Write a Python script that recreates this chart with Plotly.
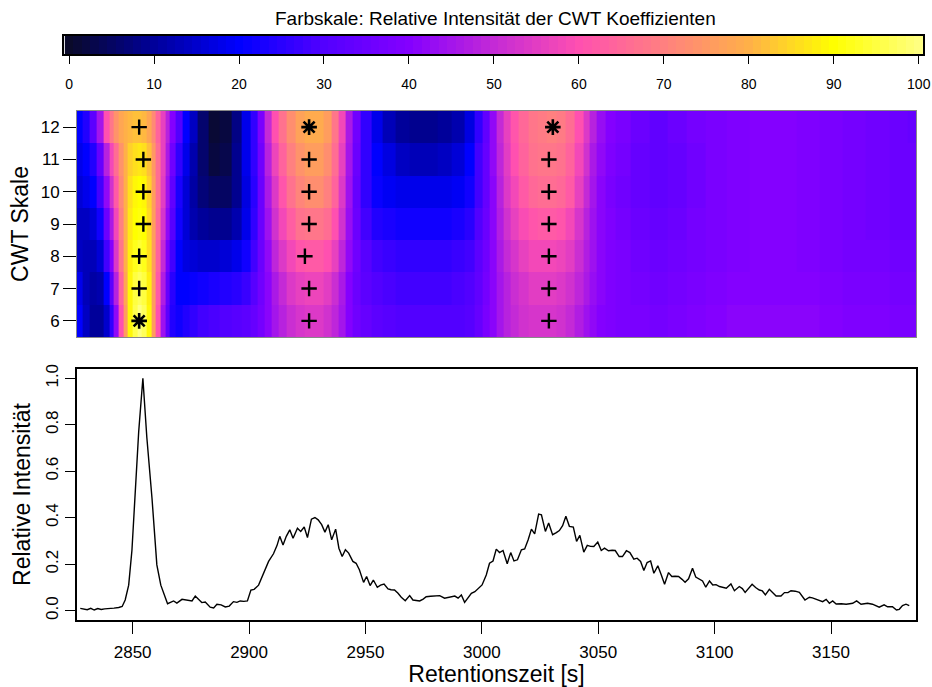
import plotly.graph_objects as go

# ---------------- data ----------------
scales = [6, 7, 8, 9, 10, 11, 12]

cwt_time = [2827, 2830, 2833, 2836, 2839, 2841, 2843, 2845, 2847, 2849, 2851, 2853, 2855, 2857, 2859,
            2861, 2863, 2865, 2867, 2870, 2873, 2876, 2880, 2885, 2890, 2895, 2899, 2902, 2905, 2908,
            2911, 2914, 2918, 2922, 2926, 2930, 2934, 2937, 2940, 2943, 2946, 2950, 2955, 2960, 2966,
            2972, 2978, 2984, 2990, 2995, 2999, 3002, 3005, 3008, 3011, 3014, 3018, 3022, 3026, 3030,
            3034, 3038, 3042, 3045, 3048, 3051, 3055, 3060, 3068, 3076, 3084, 3092, 3100, 3110, 3120,
            3130, 3140, 3150, 3160, 3170, 3180, 3186]

cwt_s12 = [20, 24, 32, 45, 60, 68, 74, 78, 80, 81, 82, 82, 81, 78, 72, 64, 56, 48, 40, 30, 20, 14, 6, 1, 2,
           8, 18, 26, 38, 50, 60, 67, 73, 77, 79, 79, 76, 68, 58, 46, 36, 26, 18, 13, 10, 9, 9, 10, 12, 17,
           26, 33, 42, 50, 56, 61, 65, 68, 69, 70, 69, 66, 60, 54, 48, 43, 40, 38, 35, 33, 35, 37, 38, 39,
           40, 40, 39, 38, 37, 36, 35, 34]
cwt_s11 = [18, 20, 24, 34, 48, 58, 66, 74, 80, 84, 86, 87, 86, 82, 75, 66, 56, 46, 36, 26, 18, 12, 6, 2, 3,
           9, 18, 26, 36, 48, 57, 64, 70, 74, 76, 76, 73, 66, 56, 45, 35, 26, 20, 17, 14, 13, 13, 14, 16, 20,
           28, 34, 42, 49, 55, 60, 64, 67, 68, 68, 67, 64, 58, 52, 46, 42, 39, 37, 34, 33, 34, 36, 38, 39,
           40, 40, 39, 38, 37, 36, 35, 35]
cwt_s10 = [16, 18, 20, 28, 42, 52, 62, 72, 80, 86, 89, 90, 89, 84, 76, 66, 55, 44, 33, 23, 16, 11, 7, 5, 5,
           9, 17, 25, 35, 46, 54, 61, 67, 71, 73, 73, 70, 64, 54, 44, 34, 26, 21, 19, 18, 18, 18, 18, 19, 22,
           28, 34, 41, 48, 54, 58, 62, 65, 66, 66, 65, 62, 56, 50, 45, 41, 38, 36, 34, 33, 34, 36, 38, 39,
           40, 40, 39, 38, 37, 36, 35, 35]
cwt_s9 = [14, 14, 16, 22, 35, 46, 58, 70, 80, 87, 90, 91, 90, 85, 76, 65, 53, 42, 31, 22, 16, 12, 10, 9, 9,
          12, 18, 26, 35, 44, 52, 58, 63, 67, 68, 68, 66, 60, 52, 43, 35, 28, 24, 23, 22, 22, 22, 22, 23, 25,
          30, 35, 41, 47, 52, 56, 59, 61, 62, 62, 61, 58, 53, 48, 44, 41, 39, 37, 35, 34, 35, 37, 38, 39,
          40, 40, 39, 38, 37, 36, 35, 35]
cwt_s8 = [14, 13, 13, 16, 28, 40, 54, 68, 80, 88, 92, 94, 92, 86, 76, 64, 50, 38, 28, 20, 17, 16, 15, 15, 16,
          18, 22, 28, 35, 42, 49, 54, 58, 61, 62, 62, 60, 56, 49, 42, 36, 31, 28, 27, 26, 26, 26, 26, 27, 28,
          32, 36, 41, 46, 50, 53, 56, 58, 58, 58, 57, 55, 51, 47, 44, 41, 39, 38, 36, 35, 36, 37, 38, 39,
          40, 40, 39, 38, 37, 37, 36, 36]
cwt_s7 = [18, 13, 11, 12, 20, 32, 48, 64, 78, 89, 95, 97, 95, 88, 76, 62, 47, 34, 25, 20, 20, 21, 22, 23, 24,
          25, 27, 31, 36, 41, 46, 50, 54, 56, 57, 57, 55, 51, 46, 40, 35, 32, 30, 29, 28, 28, 28, 28, 29, 30,
          33, 37, 41, 45, 48, 51, 53, 55, 55, 55, 54, 52, 49, 46, 43, 41, 39, 38, 37, 36, 37, 38, 39, 40,
          40, 40, 40, 39, 38, 38, 37, 37]
cwt_s6 = [20, 14, 10, 10, 15, 26, 42, 60, 76, 89, 96, 100, 97, 89, 76, 60, 44, 32, 24, 22, 24, 26, 28, 29, 30,
          31, 32, 34, 37, 41, 45, 48, 51, 53, 54, 54, 52, 49, 45, 40, 36, 34, 32, 31, 30, 30, 30, 30, 30, 31,
          34, 38, 41, 45, 48, 50, 52, 53, 53, 53, 52, 50, 47, 44, 42, 40, 39, 38, 38, 37, 38, 39, 40, 41,
          41, 41, 41, 40, 39, 39, 38, 38]

# detected ridge maxima per scale (scale 6 ... 12)
peak1_time = [2852.8, 2852.8, 2852.8, 2854.6, 2854.6, 2854.6, 2852.8]
peak2_time = [2925.8, 2925.8, 2924.0, 2925.8, 2925.8, 2925.8, 2925.8]
peak3_time = [3028.8, 3028.8, 3028.8, 3028.8, 3028.8, 3028.8, 3030.5]
# scale at which each ridge reaches its maximum (drawn as "*")
peak_best_scale = [6, 12, 12]

chrom_time = [2827.5, 2829, 2830.5, 2832, 2833.5, 2835, 2836.5, 2838, 2840, 2842, 2844, 2845.5, 2846.8,
              2848.3, 2849.7, 2851.1, 2852.6, 2854.4, 2856.1, 2858.3, 2860.4, 2862.1, 2863.5, 2865,
              2867.6, 2869, 2871.2, 2873, 2875.5, 2876.9, 2879.7, 2881.2, 2883.3, 2884.8, 2886.2, 2888,
              2889.8, 2891.5, 2893.3, 2894.8, 2896.2, 2897.8, 2899.3, 2900.8, 2902.2, 2904.1, 2906.1,
              2908.4, 2910.5, 2912, 2913.2, 2914.6, 2916, 2917.5, 2918.9, 2920.8, 2922.2, 2923.7, 2925.1,
              2926.8, 2928.3, 2929.7, 2931.2, 2932.6, 2934, 2935.5, 2937.2, 2938.6, 2940, 2941.4, 2942.8,
              2944.6, 2946, 2947.4, 2949.2, 2950.5, 2952, 2953.4, 2955.1, 2956.5, 2958, 2959.7, 2961,
              2962.5, 2964, 2965.4, 2967.1, 2969, 2970.4, 2972, 2973.3, 2974.8, 2976.1, 2978, 2980,
              2981.9, 2984, 2986, 2988.4, 2989.8, 2991.2, 2992.6, 2994, 2995.5, 2997, 2998.3, 3000.1,
              3001.9, 3003.3, 3004.8, 3006.2, 3007.6, 3009.1, 3010.9, 3012.4, 3013.8, 3015.3, 3017,
              3018.4, 3019.9, 3021.3, 3022.7, 3024.4, 3025.6, 3027.3, 3028.7, 3030.4, 3032, 3033.3,
              3034.7, 3036.1, 3037.6, 3039.3, 3040.7, 3042.1, 3043.8, 3045.3, 3046.7, 3048.1, 3049.8,
              3051.3, 3052.7, 3054.4, 3056, 3057.3, 3059, 3060.4, 3062.1, 3063.6, 3065.3, 3066.7, 3068.2,
              3069.6, 3071, 3072.5, 3073.9, 3075.6, 3077.1, 3078.5, 3080.2, 3081.6, 3083, 3084.5, 3086,
              3087.3, 3088.8, 3090.5, 3091.9, 3093.3, 3094.8, 3096.2, 3097.8, 3099.2, 3100.6, 3102.1,
              3103.5, 3105, 3107, 3108.5, 3110.6, 3111.9, 3113.1, 3114.6, 3116.1, 3117.6, 3119.2, 3120.5,
              3121.8, 3123.5, 3125, 3126.4, 3128.5, 3130, 3131.5, 3132.8, 3134.6, 3136.4, 3138.8, 3140.7,
              3142, 3143.6, 3145, 3146.4, 3147.9, 3149.3, 3150.7, 3152.2, 3154.4, 3156.5, 3158, 3159.3,
              3161, 3162.9, 3164.3, 3165.7, 3167.8, 3169.3, 3170.7, 3172.8, 3174.3, 3176.4, 3178.1,
              3179.3, 3180.7, 3182.2, 3183.6]
chrom_int = [0.010, 0.008, 0.004, 0.010, 0.003, 0.009, 0.005, 0.008, 0.008, 0.011, 0.014, 0.018, 0.046,
             0.11, 0.26, 0.51, 0.77, 1.0, 0.745, 0.486, 0.197, 0.11, 0.075, 0.030,
             0.042, 0.033, 0.049, 0.045, 0.042, 0.063, 0.035, 0.037, 0.015, 0.012, 0.028, 0.025,
             0.016, 0.02, 0.039, 0.036, 0.042, 0.04, 0.042, 0.089, 0.092, 0.11, 0.161,
             0.212, 0.245, 0.28, 0.32, 0.283, 0.32, 0.348, 0.312, 0.355, 0.341, 0.36, 0.315,
             0.394, 0.401, 0.391, 0.37, 0.338, 0.37, 0.305, 0.351, 0.269, 0.233, 0.262, 0.248,
             0.212, 0.204, 0.176, 0.122, 0.147, 0.108, 0.132, 0.101, 0.11, 0.115, 0.094, 0.09,
             0.089, 0.075, 0.058, 0.043, 0.065, 0.046, 0.044, 0.042, 0.05, 0.06, 0.062, 0.063,
             0.065, 0.054, 0.058, 0.063, 0.054, 0.068, 0.036, 0.055, 0.075, 0.082, 0.094, 0.111,
             0.154, 0.204, 0.214, 0.265, 0.25, 0.259, 0.202, 0.25, 0.214, 0.219, 0.262,
             0.266, 0.305, 0.351, 0.331, 0.416, 0.413, 0.341, 0.377, 0.327, 0.336, 0.345,
             0.366, 0.406, 0.363, 0.36, 0.298, 0.324, 0.252, 0.281, 0.277, 0.276, 0.295,
             0.259, 0.269, 0.258, 0.26, 0.259, 0.233, 0.233, 0.258, 0.25, 0.222, 0.226, 0.212,
             0.173, 0.207, 0.214, 0.161, 0.193, 0.154, 0.114, 0.164, 0.147, 0.148, 0.147, 0.135,
             0.122, 0.137, 0.183, 0.145, 0.135, 0.128, 0.101, 0.128, 0.111, 0.112, 0.104,
             0.1, 0.097, 0.115, 0.086, 0.104, 0.095, 0.079, 0.097, 0.114, 0.1, 0.089, 0.085,
             0.068, 0.092, 0.075, 0.063, 0.063, 0.078, 0.078, 0.086, 0.084, 0.079, 0.046, 0.058,
             0.055, 0.049, 0.045, 0.039, 0.049, 0.032, 0.042, 0.029, 0.03, 0.028, 0.03, 0.032,
             0.042, 0.028, 0.03, 0.032, 0.028, 0.022, 0.015, 0.025, 0.017, 0.017, 0.003,
             0.006, 0.022, 0.028, 0.022]

x_ticks = [2850, 2900, 2950, 3000, 3050, 3100, 3150]
y_ticks = [0.0, 0.2, 0.4, 0.6, 0.8, 1.0]
y_ticklabels = ["0.0", "0.2", "0.4", "0.6", "0.8", "1.0"]
cb_ticks = [0, 10, 20, 30, 40, 50, 60, 70, 80, 90, 100]
cb_levels = list(range(0, 101))  # colour-key steps (0..100 %)
cb_title = "Farbskale: Relative Intensität der CWT Koeffizienten"

# ---------------- styling ----------------
W, H = 932, 687
FONT = "Liberation Sans, Arial, Helvetica, sans-serif"

colorscale = [
    [0.00, "#0a0a2a"], [0.10, "#00009a"], [0.20, "#0000ff"], [0.30, "#5200ff"],
    [0.40, "#8400ff"], [0.50, "#c42ad6"], [0.60, "#ff50b0"], [0.70, "#ff8080"],
    [0.80, "#ffb048"], [0.90, "#ffff00"], [1.00, "#ffff80"],
]

def px_x(p):
    return p / W

def px_y(p):
    return 1 - p / H

z = [cwt_s6, cwt_s7, cwt_s8, cwt_s9, cwt_s10, cwt_s11, cwt_s12]
x_range = [2826.1, 3186.5]

fig = go.Figure()

# colour key (own axes, top)
fig.add_trace(go.Heatmap(
    x=cb_levels, y=[0], z=[cb_levels], zmin=0, zmax=100, zsmooth=False,
    colorscale=colorscale, showscale=False, xaxis="x3", yaxis="y3", hoverinfo="skip",
))

# CWT coefficient image
fig.add_trace(go.Heatmap(
    x=cwt_time, y=scales, z=z, zmin=0, zmax=100, zsmooth=False,
    colorscale=colorscale, showscale=False, xaxis="x", yaxis="y", hoverinfo="skip",
))

# ridge markers built from the peak arrays
plus_x, plus_y, star_x, star_y = [], [], [], []
for ridge, best in zip([peak1_time, peak2_time, peak3_time], peak_best_scale):
    for s, t in zip(scales, ridge):
        if s == best:
            star_x.append(t); star_y.append(s)
        else:
            plus_x.append(t); plus_y.append(s)

fig.add_trace(go.Scatter(x=plus_x, y=plus_y, mode="markers", xaxis="x", yaxis="y",
                         marker=dict(symbol="cross-thin-open", size=11, color="black",
                                     line=dict(width=2.4, color="black")),
                         hoverinfo="skip", showlegend=False))
fig.add_trace(go.Scatter(x=star_x, y=star_y, mode="markers", xaxis="x", yaxis="y",
                         marker=dict(symbol="asterisk-open", size=13, color="black",
                                     line=dict(width=2.6, color="black")),
                         hoverinfo="skip", showlegend=False))

fig.add_trace(go.Scatter(x=chrom_time, y=chrom_int, mode="lines", xaxis="x2", yaxis="y2",
                         line=dict(color="black", width=1.4), hoverinfo="skip", showlegend=False))

tick_font = dict(family=FONT, size=17, color="black")
title_font = dict(family=FONT, size=23, color="black")

fig.update_layout(
    width=W, height=H, margin=dict(l=0, r=0, t=0, b=0, pad=0), autosize=False,
    paper_bgcolor="white", plot_bgcolor="white", showlegend=False,
    font=dict(family=FONT, color="black"),
    # colour key axes
    xaxis3=dict(domain=[px_x(64), px_x(923)], range=[-0.6, 100.5], tickmode="array",
                tickvals=cb_ticks, ticks="outside", ticklen=8, tickwidth=1.2, tickcolor="black",
                tickfont=dict(family=FONT, size=14, color="black"), ticklabelstandoff=8,
                showgrid=False, zeroline=False, showline=True, mirror=True, automargin=False,
                linecolor="black", linewidth=1.5, anchor="y3", fixedrange=True),
    yaxis3=dict(domain=[px_y(54), px_y(36)], range=[-0.5, 0.5], showticklabels=False,
                ticks="", showgrid=False, zeroline=False, showline=True, mirror=True,
                automargin=False,
                linecolor="black", linewidth=1.5, anchor="x3", fixedrange=True),
    # CWT image axes
    xaxis=dict(domain=[px_x(77), px_x(916)], range=x_range, showticklabels=False, ticks="",
               showgrid=False, zeroline=False, showline=True, mirror=True, automargin=False,
               linecolor="#888888", linewidth=1, anchor="y"),
    yaxis=dict(domain=[px_y(337), px_y(111)], range=[5.5, 12.5], tickmode="array",
               tickvals=scales, ticks="outside", ticklen=13, tickcolor="black",
               tickfont=tick_font, showgrid=False, zeroline=False, showline=True, mirror=True,
               automargin=False,
               linecolor="#888888", linewidth=1, anchor="x",
               title=dict(text="CWT Skale", font=title_font, standoff=5)),
    # chromatogram axes
    xaxis2=dict(domain=[px_x(77), px_x(916)], range=x_range, tickmode="array", tickvals=x_ticks,
                ticks="outside", ticklen=12, tickcolor="black", tickwidth=1.2, tickfont=tick_font,
                ticklabelstandoff=4, automargin=False,
                showgrid=False, zeroline=False, showline=True, mirror=True,
                linecolor="black", linewidth=1.5, anchor="y2",
                title=dict(text="Retentionszeit [s]", font=title_font, standoff=0)),
    yaxis2=dict(domain=[px_y(620), px_y(369)], range=[-0.04, 1.04], tickmode="array",
                tickvals=y_ticks, ticktext=y_ticklabels, tickangle=-90,
                ticks="outside", ticklen=10, tickcolor="black", tickwidth=1.2, tickfont=tick_font,
                showgrid=False, zeroline=False, showline=True, mirror=True, automargin=False,
                linecolor="black", linewidth=1.5, anchor="x2",
                title=dict(text="Relative Intensität", font=title_font, standoff=6)),
    annotations=[dict(text=cb_title, xref="paper", yref="paper", x=px_x(495), y=px_y(19),
                      xanchor="center", yanchor="middle", showarrow=False,
                      font=dict(family=FONT, size=19, color="black"))],
)

fig.write_html("out.html")
